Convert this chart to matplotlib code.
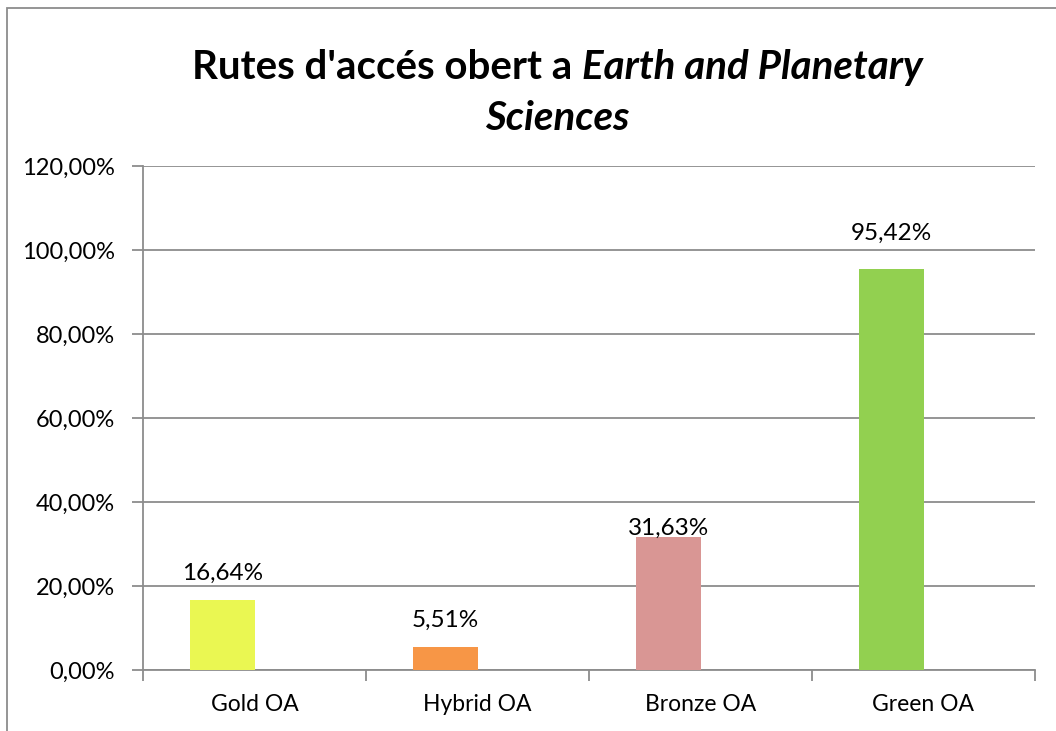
import matplotlib.pyplot as plt
import matplotlib.patches as patches
from matplotlib.ticker import FixedLocator, FuncFormatter

categories = ['Gold OA', 'Hybrid OA', 'Bronze OA', 'Green OA']
values = [16.64, 5.51, 31.63, 95.42]
colors = ['#EAF752', '#F79646', '#D99694', '#92D050']
yticks = [0, 20, 40, 60, 80, 100, 120]
# label gap above each bar (pixels), labels were placed by hand in the original
label_gaps = [20, 20, 2, 29]

plt.rcParams['font.family'] = ['Lato', 'DejaVu Sans']

W, H = 1056, 731
fig = plt.figure(figsize=(W / 100, H / 100), dpi=100)

# outer chart frame (cut off on the right and bottom like the reference)
frame = patches.Rectangle((7 / W, -0.1), 1.2, 1 - 8 / H + 0.1, transform=fig.transFigure,
                          fill=False, edgecolor='#8c8c8c', lw=1.3, clip_on=False)
fig.patches.append(frame)

ax = fig.add_axes([143 / W, (H - 670) / H, 892 / W, 504 / H])
ax.set_facecolor('none')

bw = 0.287
xs = [i - bw / 2 for i in range(len(categories))]
bars = ax.bar(xs, values, width=bw, color=colors, zorder=3)
for b, v, g in zip(bars, values, label_gaps):
    ax.annotate(('%.2f%%' % v).replace('.', ','), (b.get_x() + b.get_width() / 2, v),
                xytext=(0, g * 0.72), textcoords='offset points', ha='center', va='baseline',
                fontsize=17.5, zorder=4)

ax.set_xlim(-0.5, len(categories) - 0.5)
ax.set_ylim(0, 120)
ax.yaxis.set_major_locator(FixedLocator(yticks))
ax.yaxis.set_major_formatter(FuncFormatter(lambda v, p: ('%.2f%%' % v).replace('.', ',')))
ax.grid(axis='y', color='#8c8c8c', lw=1.3, zorder=0)

ax.set_xticks(range(len(categories)))
ax.set_xticklabels(categories)
ax.set_xticks([i - 0.5 for i in range(len(categories) + 1)], minor=True)
ax.tick_params(axis='x', which='major', length=0, pad=17, labelsize=16.5)
ax.tick_params(axis='x', which='minor', length=8, width=1.3, color='#8c8c8c')
ax.tick_params(axis='y', length=8, width=1.3, color='#8c8c8c', labelsize=17, pad=12)

for s in ['top', 'right']:
    ax.spines[s].set_visible(False)
for s in ['left', 'bottom']:
    ax.spines[s].set_color('#8c8c8c')
    ax.spines[s].set_linewidth(1.3)

# two-line title with bold and bold-italic parts
part1 = "Rutes d'accés obert a "
part2 = "Earth and Planetary"
tsize = 29
fig.canvas.draw()
r = fig.canvas.get_renderer()
t1 = fig.text(0, 0, part1, fontsize=tsize, fontweight='bold')
t2 = fig.text(0, 0, part2, fontsize=tsize, fontweight='bold', style='italic')
w1 = t1.get_window_extent(r).width
w2 = t2.get_window_extent(r).width
cx = 557
x0 = cx - (w1 + w2) / 2
y1 = H - 79
t1.set_position((x0 / W, y1 / H))
t2.set_position(((x0 + w1) / W, y1 / H))
t1.set_va('baseline')
t2.set_va('baseline')
fig.text(cx / W, (H - 130) / H, 'Sciences', fontsize=tsize, fontweight='bold',
         style='italic', ha='center', va='baseline')

fig.savefig('out.png', dpi=100)
